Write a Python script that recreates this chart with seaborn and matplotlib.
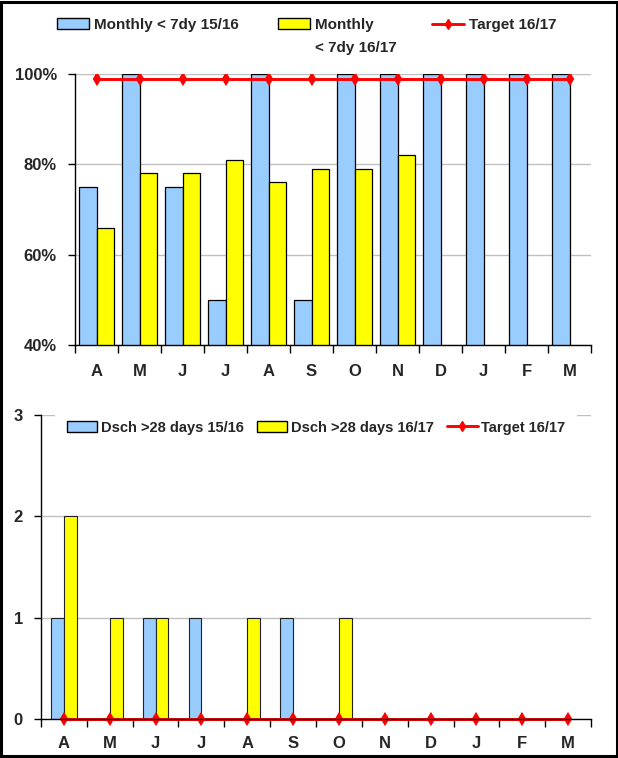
import numpy as np
import pandas as pd
import matplotlib
matplotlib.use("Agg")
import matplotlib.pyplot as plt
from matplotlib.patches import Patch, Rectangle
from matplotlib.lines import Line2D
from matplotlib.ticker import FixedLocator, FuncFormatter
import seaborn as sns

# ---- data -------------------------------------------------------------
months = ["Apr", "May", "Jun", "Jul", "Aug", "Sep",
          "Oct", "Nov", "Dec", "Jan", "Feb", "Mar"]
month_letters = ["A", "M", "J", "J", "A", "S", "O", "N", "D", "J", "F", "M"]

# percentage discharged within 7 days
pct_1516 = [75, 100, 75, 50, 100, 50, 100, 100, 100, 100, 100, 100]
pct_1617 = [66, 78, 78, 81, 76, 79, 79, 82, None, None, None, None]
pct_target = [99, 99, 99, 99, 99, 99, 99, 99, 99, 99, 99, 99]
pct_yticks = [40, 60, 80, 100]

# discharges after more than 28 days
dsch_1516 = [1, 0, 1, 1, 0, 1, 0, 0, 0, 0, 0, 0]
dsch_1617 = [2, 1, 1, 0, 1, 0, 1, None, None, None, None, None]
dsch_target = [0, 0, 0, 0, 0, 0, 0, 0, 0, 0, 0, 0]
dsch_yticks = [0, 1, 2, 3]

top_labels = ["Monthly < 7dy 15/16", "Monthly", "Target 16/17"]
top_label_line2 = "< 7dy 16/17"
bottom_labels = ["Dsch >28 days 15/16", "Dsch >28 days 16/17", "Target 16/17"]

BLUE = "#99CCFF"
YELLOW = "#FFFF00"
RED = "#FF0000"

# ---- style ------------------------------------------------------------
sns.set_style("white")
plt.rcParams["font.family"] = ["Liberation Sans", "DejaVu Sans"]
plt.rcParams["font.weight"] = "bold"

W, H = 618, 758
fig = plt.figure(figsize=(W / 100, H / 100), dpi=100)
fig.patch.set_facecolor("white")

TICK_FS = 12
MARK_SZ = 5.5


def fx(px):
    return px / W


def fy(px):
    return 1 - px / H


def long_frame(a, b, names):
    df = pd.DataFrame({
        "month": months * 2,
        "value": list(a) + list(b),
        "series": [names[0]] * len(a) + [names[1]] * len(b),
    })
    return df.dropna()


def style_axes(ax, yticks, ylim, xpad, ypad):
    ax.set_xlim(-0.5, len(months) - 0.5)
    ax.set_ylim(*ylim)
    ax.set_xlabel("")
    ax.set_ylabel("")
    ax.set_xticks(range(len(months)))
    ax.set_xticklabels(month_letters, fontsize=TICK_FS, fontweight="bold")
    ax.xaxis.set_minor_locator(FixedLocator(np.arange(-0.5, len(months), 1.0)))
    ax.tick_params(axis="x", which="major", length=0, pad=xpad, bottom=True)
    ax.tick_params(axis="x", which="minor", length=6, width=1,
                   direction="out", color="black", bottom=True)
    ax.set_yticks(yticks)
    ax.tick_params(axis="y", which="major", length=5, width=1, direction="out",
                   color="black", left=True, pad=ypad, labelsize=TICK_FS)
    ax.yaxis.grid(True, color="#c0c0c0", lw=1)
    ax.xaxis.grid(False)
    ax.set_axisbelow(True)
    for s in ("top", "right"):
        ax.spines[s].set_visible(False)
    for s in ("left", "bottom"):
        ax.spines[s].set_color("black")
        ax.spines[s].set_linewidth(1)


# ---- top panel: % within 7 days ---------------------------------------
ax1 = fig.add_axes([fx(75), fy(345), fx(591) - fx(75), fy(74) - fy(345)])
top_df = long_frame(pct_1516, pct_1617, top_labels[:2])
sns.barplot(data=top_df, x="month", y="value", hue="series", order=months,
            hue_order=top_labels[:2], palette=[BLUE, YELLOW], saturation=1,
            width=0.82, gap=0, errorbar=None, edgecolor="black", linewidth=0.9,
            legend=False, ax=ax1)
sns.pointplot(x=months, y=pct_target, order=months, color=RED, markers="d",
              linestyles="-", errorbar=None, markersize=MARK_SZ, linewidth=2.1,
              ax=ax1)
style_axes(ax1, pct_yticks, (40, 100), xpad=14, ypad=8)
ax1.yaxis.set_major_formatter(FuncFormatter(lambda v, _: f"{v:.0f}%"))

# ---- bottom panel: discharges > 28 days -------------------------------
ax2 = fig.add_axes([fx(41), fy(719), fx(591) - fx(41), fy(415) - fy(719)])
bot_df = long_frame(dsch_1516, dsch_1617, bottom_labels[:2])
sns.barplot(data=bot_df, x="month", y="value", hue="series", order=months,
            hue_order=bottom_labels[:2], palette=[BLUE, YELLOW], saturation=1,
            width=0.56, gap=0, errorbar=None, edgecolor="#222222", linewidth=0.8,
            legend=False, ax=ax2)
sns.pointplot(x=months, y=dsch_target, order=months, color=RED, markers="d",
              linestyles="-", errorbar=None, markersize=MARK_SZ, linewidth=2.1,
              ax=ax2)
for ln in ax2.lines:
    ln.set_clip_on(False)
style_axes(ax2, dsch_yticks, (0, 3), xpad=12, ypad=8)

# ---- legends ----------------------------------------------------------
bold11 = {"size": 11, "weight": "bold"}
top_handles = [
    Patch(facecolor=BLUE, edgecolor="black", lw=1),
    Patch(facecolor=YELLOW, edgecolor="black", lw=1),
    Line2D([0], [0], color=RED, lw=2.1, marker="d", markersize=MARK_SZ),
]
top_x = [57, 278, 432]
top_legs = []
for h, lab, x in zip(top_handles, top_labels, top_x):
    leg = fig.legend(handles=[h], labels=[lab], loc="center left",
                     bbox_to_anchor=(fx(x), fy(25)), frameon=False,
                     borderpad=0, borderaxespad=0, handlelength=2.1,
                     handletextpad=0.3, prop=bold11)
    top_legs.append(leg)

fig.canvas.draw()
bb = top_legs[1].get_texts()[0].get_window_extent()
fig.text(bb.x0 / W, fy(48), top_label_line2, ha="left", va="center",
         fontsize=11, fontweight="bold")

bot_handles = [
    Patch(facecolor=BLUE, edgecolor="black", lw=1),
    Patch(facecolor=YELLOW, edgecolor="black", lw=1),
    Line2D([0], [0], color=RED, lw=2.1, marker="d", markersize=MARK_SZ),
]
leg2 = ax2.legend(handles=bot_handles, labels=bottom_labels, loc="upper center",
                  bbox_to_anchor=(0.5, 1.02), ncol=3, frameon=True,
                  fancybox=False, facecolor="white", framealpha=1,
                  borderpad=0.8, borderaxespad=0, handlelength=2.1,
                  handletextpad=0.25, columnspacing=0.9,
                  prop={"size": 10.5, "weight": "bold"})
leg2.get_frame().set_linewidth(0)

# outer border
fig.patches.append(Rectangle((0.002, 0.002), 0.996, 0.996, transform=fig.transFigure,
                             fill=False, lw=2.2, ec="black", zorder=10))

fig.savefig("out.png", dpi=100, facecolor="white")
